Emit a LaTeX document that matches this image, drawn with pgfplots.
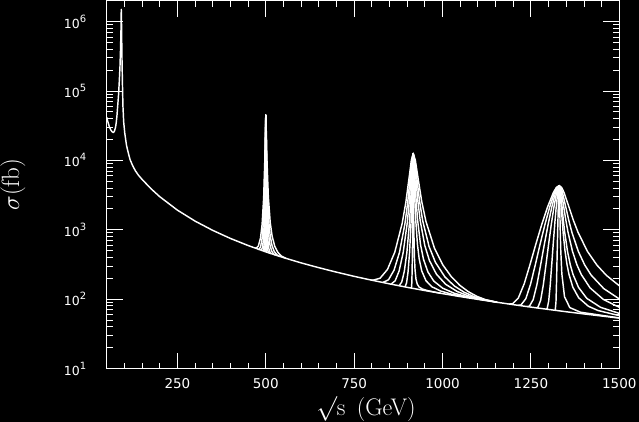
\documentclass[border=0pt]{standalone}
\usepackage{fontspec}
\usepackage{pgfplots}
\pgfplotsset{compat=1.18}
\newfontfamily\tickfont{DejaVu Sans}
\newcommand\yl[1]{\fontsize{12.5bp}{14bp}\selectfont\tickfont 10\raisebox{6bp}{\fontsize{10bp}{11bp}\selectfont #1}}
\begin{document}
\begin{tikzpicture}
\fill[black] (-106.7bp,-53.3bp) rectangle (532.3bp,368.5bp);
\begin{axis}[
  scale only axis, width=512.6bp, height=367.7bp,
  xmin=50, xmax=1500, ymode=log, ymin=10, ymax=2e6,
  axis line style={white, line width=1.2bp},
  tick style={white, line width=0.9bp},
  major tick length=16bp, minor tick length=6bp, tick align=inside,
  xtick={250,500,750,1000,1250,1500},
  xticklabels={250,500,750,1000,1250,1500},
  minor xtick={100,150,...,1450},
  ytick={1e1,1e2,1e3,1e4,1e5,1e6},
  yticklabels={\yl{1},\yl{2},\yl{3},\yl{4},\yl{5},\yl{6}},
  minor ytick={2e1,3e1,4e1,5e1,6e1,7e1,8e1,9e1,2e2,3e2,4e2,5e2,6e2,7e2,8e2,9e2,2e3,3e3,4e3,5e3,6e3,7e3,8e3,9e3,2e4,3e4,4e4,5e4,6e4,7e4,8e4,9e4,2e5,3e5,4e5,5e5,6e5,7e5,8e5,9e5,2e6},
  xticklabel style={text=white, font=\tickfont\fontsize{13.5bp}{15bp}\selectfont, yshift=-6bp},
  yticklabel style={text=white, xshift=-17bp},
  xlabel={$\surd$s\, (GeV)},
  ylabel={$\sigma$(fb)},
  every axis x label/.style={at={(axis description cs:0.5,0)}, anchor=north, inner sep=0pt, yshift=-28bp, xshift=3bp, text=white, font=\fontsize{24bp}{27bp}\selectfont},
  every axis y label/.style={at={(axis description cs:-0.183,0.5)}, anchor=center, rotate=90, inner sep=0pt, text=white, font=\fontsize{25bp}{28bp}\selectfont},
  every axis plot post/.append style={white, solid, line width=1.45bp, mark=none, line join=round},
]
% background continuum with Z peak
\addplot coordinates {(50,42000)(54,35000)(58,30000)(62,27200)(66,25700)(69,25200)(72,26500)(75,30000)(77,35000)(79,44000)(81,60000)(83.5,88000)(85.5,135000)(87.5,220000)(89,380000)(90.3,700000)(91.2,1500000)(92,900000)(93,350000)(94.5,130000)(96,60000)(98,36000)(101,25000)(106,16500)(110,13500)(116,10300)(123,8500)(131,7100)(140,6100)(150,5330)(175,3920)(200,3000)(250,1920)(300,1333)(350,980)(400,750)(450,593)(500,480)(550,397)(600,333)(650,284)(700,245)(750,213)(800,187.5)(850,166)(900,148)(950,133)(1000,120)(1050,108.8)(1100,99.2)(1150,90.7)(1200,83.3)(1250,76.8)(1300,71)(1350,65.8)(1400,61.2)(1450,57.1)(1500,53.3)};
% resonance at 500 GeV
\addplot coordinates {(470,543)(473,541.3)(479,582)(485,758)(489.5,1186)(494,2904)(497,9208)(498.5,22622)(500,44980)(501.8,22683)(503.6,9303)(507.2,3003)(512.6,1264)(518,806)(525.2,583)(534.2,472)(545,414.8)(557.6,386)};
\addplot coordinates {(479,523)(481.1,523.4)(485.3,568.3)(489.5,749)(492.65,1179)(495.8,2900)(497.9,9206)(498.95,22621)(500,44980)(501.25,22684)(502.5,9305)(505,3007)(508.75,1271)(512.5,815.6)(517.5,596)(523.75,489)(531.25,436)(540,411.5)};
\addplot coordinates {(486.8,506.4)(490.76,557)(493.4,741)(495.38,1174)(497.36,2897)(498.68,9205)(499.34,22620)(500,44980)(500.85,22684)(501.7,9307)(503.4,3010)(505.95,1276)(508.5,822.8)(511.9,605.7)(516.15,502)(521.25,452.5)(527.2,431.7)};
\addplot coordinates {(492.2,495.3)(494.54,549.4)(496.1,735.6)(497.27,1170)(498.44,2895)(499.22,9204)(499.61,22620)(500,44980)(500.5,22685)(501,9308)(502,3012)(503.5,1280)(505,829)(507,614.6)(509.5,513.8)(512.5,467.7)(516,450.7)};
\addplot coordinates {(497,485.8)(498.5,731)(498.95,1167)(499.4,2893)(499.7,9203)(499.85,22619)(500,44980)(500.28,22686)(500.56,9309)(501.12,3014)(501.96,1283)(502.8,833.4)(503.92,620.4)(505.32,521.5)(507,477.6)(508.96,463.3)};
\addplot coordinates {(499.2,481.5)(499.84,2892)(499.96,22619)(500,44980)(500.09,22686)(500.36,3015)(500.9,837)(501.71,528.3)(502.88,474.5)};
% resonance at 917 GeV
\addplot coordinates {(797,188.9)(802.6,187.1)(823.4,200.3)(844.2,267.9)(865,476.4)(885.8,1235)(896.2,2492)(906.6,6278)(911.8,10066)(917,12593)(923,10088)(929,6332)(941,2575)(953,1321)(977,545.7)(1001,310.6)(1025,210)(1049,158)(1073,128)(1097,109.8)(1121,98.5)(1155,89.9)};
\addplot coordinates {(831.6,174.3)(847.2,190.5)(862.7,260.7)(878.2,471.6)(893.72,1232)(901.48,2491)(909.24,6277)(913.12,10066)(917,12593)(921.48,10094)(925.96,6347)(934.92,2599)(943.88,1348)(961.8,575)(979.7,340.6)(1006.6,209.2)(1033.5,154.6)(1060.4,126.4)(1087.2,109.7)(1114.1,99.2)(1155,89.9)};
\addplot coordinates {(854.5,165.1)(865.9,183.3)(877.24,255.4)(888.6,468)(899.96,1230)(905.64,2489)(911.32,6277)(914.16,10066)(917,12593)(920.28,10101)(923.56,6357)(930.12,2614)(936.68,1365)(949.8,593.8)(962.9,360.2)(982.6,229.5)(1008.8,163.7)(1041.6,128.7)(1074.4,110.8)(1107.2,99.8)(1155,89.9)};
\addplot coordinates {(877.4,156.7)(884.6,176.7)(891.8,250.4)(899,464.5)(906.2,1228)(909.8,2488)(913.4,6276)(915.2,10065)(917,12593)(919.08,10101)(921.16,6364)(925.32,2624)(929.48,1377)(937.8,608)(946.1,375.7)(958.6,246.4)(975.2,182.1)(1000.2,144)(1033.5,121.5)(1075.1,106.5)(1116.7,96.7)};
\addplot coordinates {(894.12,150.9)(898.28,172)(902.44,246.8)(906.6,462)(910.76,1227)(912.84,2487)(914.92,6275)(915.96,10065)(917,12593)(918.2,10102)(919.4,6367)(921.8,2629)(924.2,1383)(929,615.4)(933.8,384.1)(941,256.3)(953,184.7)(969.8,150.8)(993.8,131.3)(1025,118.1)(1073,105.2)};
\addplot coordinates {(912.05,145.1)(912.95,167.2)(913.85,243.2)(914.75,459.4)(915.65,1225)(916.1,2486)(916.55,6275)(917,12593)(917.52,6368)(918.04,2632)(918.56,1387)(919.6,620.7)(920.64,390.6)(922.2,264.4)(924.8,195.4)(928.44,164.8)(933.64,149.7)(943,139.7)(958.6,132.4)(995,121.6)};
% resonance at 1330 GeV
\addplot coordinates {(1188.4,85)(1198,85.7)(1214.5,104.1)(1231,166.5)(1247.5,315.9)(1264,622)(1280.5,1185)(1297,2124)(1313.5,3440)(1321.75,4059)(1330,4328)(1336.7,4076)(1343.35,3474)(1356.7,2195)(1370,1375)(1383.4,915)(1410.1,486)(1436.8,309)(1463.5,220)(1500,156)};
\addplot coordinates {(1214.2,81.4)(1222,82.5)(1235.5,101.3)(1249,164.2)(1262.5,314.1)(1276,620.7)(1289.5,1184)(1303,2124)(1316.5,3439)(1323.25,4058)(1330,4328)(1334.5,4076)(1339,3475)(1348,2196)(1357,1376)(1366,916)(1384,489)(1402,312)(1420,223)(1456,142)(1500,100.5)};
\addplot coordinates {(1240,78)(1246,79.4)(1256.5,98.7)(1267,162.1)(1277.5,312.3)(1288,619.3)(1298.5,1183)(1309,2123)(1319.5,3439)(1324.75,4058)(1330,4328)(1333.1,4077)(1336.25,3475)(1342.5,2197)(1348.75,1377)(1355,917)(1367.5,490)(1380,314)(1392.5,226)(1417.5,145)(1455,98.9)(1500,76.2)};
\addplot coordinates {(1265.6,74.9)(1270,76.5)(1277.5,96.2)(1285,160)(1292.5,310.6)(1300,618)(1307.5,1182)(1315,2122)(1322.5,3439)(1330,4328)(1333.9,3475)(1337.8,2197)(1341.7,1378)(1345.6,918)(1353.4,491)(1361.2,315)(1369,228)(1384.6,148)(1408,102.7)(1447,76.2)(1500,62.3)};
\addplot coordinates {(1293.5,71.7)(1296,73.5)(1300.25,93.7)(1304.5,157.8)(1308.75,308.9)(1313,616.6)(1317.25,1181)(1321.5,2122)(1325.75,3438)(1330,4328)(1332.75,3475)(1335.5,2197)(1341,919)(1346.5,492)(1352,316)(1357.5,229)(1368.5,149)(1385,104.8)(1412.5,79)(1440,68.5)(1500,57.8)};
\addplot coordinates {(1318.8,69)(1320.9,91.5)(1322.2,155.9)(1323.5,307.3)(1324.8,615.4)(1326.1,1180)(1327.4,2121)(1328.7,3438)(1330,4328)(1331.5,2198)(1333,920)(1334.5,493)(1337.5,231)(1345,108.5)(1360,75.5)(1390,64.8)(1500,53.6)};
\end{axis}
\pgfresetboundingbox
\path[use as bounding box] (-106.7bp,-53.3bp) rectangle (532.3bp,368.5bp);
\end{tikzpicture}
\end{document}
